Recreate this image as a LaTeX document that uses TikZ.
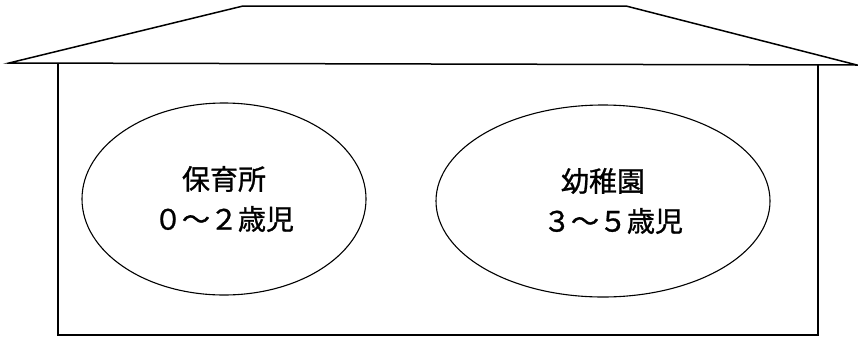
\documentclass[tikz,border=0pt]{standalone}
\usepackage{fontspec}
\newfontfamily\jpfont[FakeBold=1]{Noto Sans CJK JP}
\usetikzlibrary{shapes.geometric}
\begin{document}
\begin{tikzpicture}[x=1pt,y=-1pt,
  roofline/.style={line width=1.5pt, line join=miter},
  wallline/.style={line width=1.3pt},
  room/.style={draw, ellipse, line width=1.1pt, inner sep=0pt, align=center,
    font=\jpfont\fontsize{28}{40}\selectfont}]
\useasboundingbox (0,0) rectangle (858,338);
\coordinate (rl) at (9,63);
\coordinate (rtl) at (243,6);
\coordinate (rtr) at (626,6);
\coordinate (rr) at (857,65);
\draw[roofline] (rl) -- (rtl) -- (rtr) -- (rr) -- cycle;
\coordinate (wl) at (58,63.5);
\coordinate (wr) at (818,64.5);
\coordinate (bl) at (58,335);
\coordinate (br) at (818,335);
\draw[wallline] (wl) -- (bl) -- (br) -- (wr);
\node[room, minimum width=284pt, minimum height=192pt] (hoiku) at (224,199) {保育所\\０～２歳児};
\node[room, minimum width=334pt, minimum height=192pt] (youchi) at (603,201) {幼稚園\\\hspace*{20pt}３～５歳児};
\end{tikzpicture}
\end{document}
